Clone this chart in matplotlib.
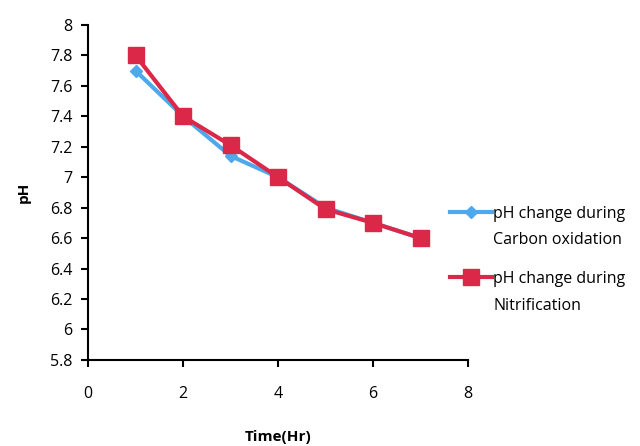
import matplotlib
matplotlib.use("Agg")
import matplotlib.pyplot as plt

time_hr = [1, 2, 3, 4, 5, 6, 7]
ph_carbon = [7.70, 7.40, 7.14, 7.00, 6.80, 6.70, 6.60]
ph_nitrif = [7.80, 7.40, 7.21, 7.00, 6.79, 6.70, 6.60]
label_carbon = "pH change during\nCarbon oxidation"
label_nitrif = "pH change during\nNitrification"
xticks = [0, 2, 4, 6, 8]
yticks = [5.8, 6, 6.2, 6.4, 6.6, 6.8, 7, 7.2, 7.4, 7.6, 7.8, 8]
ytick_labels = ["5.8", "6", "6.2", "6.4", "6.6", "6.8", "7", "7.2", "7.4", "7.6", "7.8", "8"]

plt.rcParams['font.family'] = ['Open Sans', 'DejaVu Sans']

fig = plt.figure(figsize=(6.4, 4.46), dpi=100)
ax = fig.add_axes([0.1375, 0.193, 0.594, 0.751])

ax.plot(time_hr, ph_carbon, color='#4EA9EC', lw=3, marker='D', ms=6,
        label=label_carbon, zorder=2)
ax.plot(time_hr, ph_nitrif, color='#DC2848', lw=3, marker='s', ms=12,
        label=label_nitrif, zorder=3)

ax.set_xlim(0, 8)
ax.set_ylim(5.8, 8)
ax.set_xticks(xticks)
ax.set_yticks(yticks)
ax.set_yticklabels(ytick_labels)
for s in ['top', 'right']:
    ax.spines[s].set_visible(False)
for s in ['left', 'bottom']:
    ax.spines[s].set_linewidth(1.5)
ax.tick_params(direction='out', length=5, width=1.5, labelsize=11.5)
ax.tick_params(axis='x', pad=14)
ax.tick_params(axis='y', pad=6)
ax.set_xlabel("Time(Hr)", fontsize=11, fontweight='bold', labelpad=20)
ax.set_ylabel("pH", fontsize=11, fontweight='bold', labelpad=14)

leg = fig.legend(loc='upper left', bbox_to_anchor=(0.703, 0.538), frameon=False,
                 fontsize=11.5, handlelength=2.65, handletextpad=0.05,
                 labelspacing=1.45, borderpad=0, borderaxespad=0)
for t in leg.get_texts():
    t.set_linespacing(1.85)
# align each handle with the first line of its label
for col in leg._legend_handle_box.get_children():
    for hp in col.get_children():
        hp.align = "top"

fig.savefig("out.png", dpi=100)
